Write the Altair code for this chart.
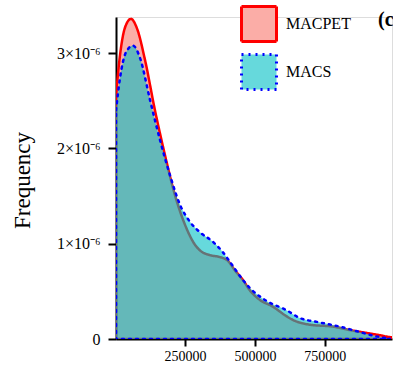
import altair as alt
import pandas as pd

# MACPET density curve (peak length vs density)
macpet_x = [3571, 17857, 35714, 57143, 78571, 107143, 142857, 178571, 214286, 250000,
            285714, 303571, 339286, 375000, 403571, 428571, 457143, 482143, 517857,
            564286, 607143, 635714, 696429, 778571, 839286, 900000, 946429, 982143, 990000]
macpet_y = [2.56, 2.98, 3.27, 3.36, 3.26, 2.93, 2.40, 1.93, 1.51, 1.20,
            0.99, 0.93, 0.88, 0.86, 0.82, 0.72, 0.62, 0.51, 0.41,
            0.34, 0.25, 0.20, 0.15, 0.13, 0.094, 0.063, 0.04, 0.02, 0.018]

# MACS density curve
macs_x = [3571, 17857, 39286, 64286, 89286, 125000, 160714, 196429, 232143, 267857,
          303571, 350000, 385714, 410714, 457143, 482143, 535714, 614286, 660714,
          721429, 803571, 875000, 946429, 982143]
macs_y = [2.40, 2.74, 3.01, 3.08, 2.95, 2.51, 2.09, 1.72, 1.41, 1.23,
          1.12, 1.02, 0.91, 0.81, 0.62, 0.535, 0.41, 0.30, 0.22,
          0.18, 0.13, 0.073, 0.02, 0.005]

series = ["MACPET", "MACS"]
fills = ["#F8766D", "#00BFC4"]
legend_fills = ["#FBADA7", "#66D9DC"]
strokes = ["#FF0000", "#0000FF"]
dashes = [[1, 0], [2, 5]]

rows = []
for x, y in zip(macpet_x, macpet_y):
    rows.append({"series": "MACPET", "len": x, "dens": y * 1e-6})
for x, y in zip(macs_x, macs_y):
    rows.append({"series": "MACS", "len": x, "dens": y * 1e-6})
df = pd.DataFrame(rows)

SERIF = "Liberation Serif"

xenc = alt.X("len:Q", scale=alt.Scale(domain=[3500, 990000], nice=False, zero=False),
             axis=alt.Axis(values=[250000, 500000, 750000], title=None, format="d",
                           labelFontSize=14, labelFont=SERIF, tickSize=7, tickWidth=2,
                           domainWidth=2, domainColor="black", tickColor="black",
                           labelColor="black", grid=False, labelPadding=3))
yenc = alt.Y("dens:Q", scale=alt.Scale(domain=[0, 3.38e-6], nice=False),
             axis=alt.Axis(values=[0, 1e-6, 2e-6, 3e-6], title="Frequency",
                           labelExpr="datum.value == 0 ? '0' : format(round(datum.value*1e6),'d') + '×10⁻⁶'",
                           labelFontSize=16, labelFont=SERIF, tickSize=8, tickWidth=2,
                           domainWidth=2, domainColor="black", tickColor="black",
                           labelColor="black", grid=False, titleFont=SERIF,
                           titleFontSize=23, titleFontWeight="normal", titleColor="black",
                           titleX=-94, titleY=163, titleAngle=270, titleAlign="center",
                           titleBaseline="middle", labelPadding=8))

areas = []
for s, f, c, d in zip(series, fills, strokes, dashes):
    areas.append(
        alt.Chart(df).transform_filter(alt.datum.series == s).mark_area(
            interpolate="monotone", fill=f, fillOpacity=0.6, stroke=c, strokeWidth=2.5,
            strokeDash=d, strokeCap="round", clip=True
        ).encode(x=xenc, y=yenc)
    )

legend_layer = alt.Chart(df).transform_filter("false").mark_square(
    opacity=1, strokeWidth=3
).encode(
    x="len:Q", y="dens:Q",
    fill=alt.Fill("series:N", scale=alt.Scale(domain=series, range=legend_fills),
                  legend=alt.Legend(title=None, orient="none", legendX=124, legendY=-12,
                                    symbolSize=1225, symbolType="square",
                                    symbolStrokeWidth=3, labelFont=SERIF, labelFontSize=16,
                                    labelColor="black", labelOffset=8, rowPadding=0)),
    stroke=alt.Stroke("series:N", scale=alt.Scale(domain=series, range=strokes)),
    strokeDash=alt.StrokeDash("series:N", scale=alt.Scale(domain=series, range=dashes)),
)

label = alt.Chart(pd.DataFrame({"t": ["(c)"]})).mark_text(
    font=SERIF, fontSize=20, fontWeight="bold", align="left", baseline="middle", color="black"
).encode(text="t:N", x=alt.value(262), y=alt.value(3))

chart = alt.layer(areas[0], areas[1], legend_layer, label).properties(
    width=276, height=322,
    padding={"left": 116, "top": 17, "right": 1, "bottom": 32},
    autosize=alt.AutoSizeParams(type="none"),
).configure_view(stroke=None).configure(background="white")

chart.save("out.html", embed_options={"renderer": "svg", "actions": False})
